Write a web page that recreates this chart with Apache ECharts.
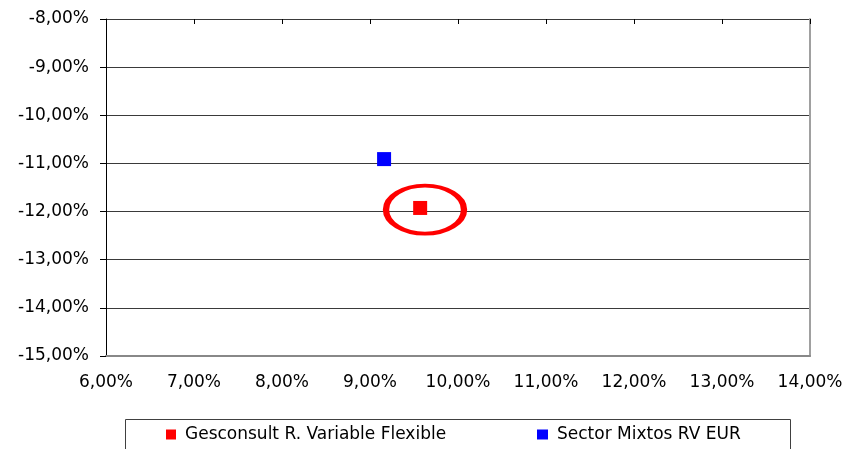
<!DOCTYPE html>
<html>
<head>
<meta charset="utf-8">
<script src="https://cdn.jsdelivr.net/npm/echarts@6/dist/echarts.min.js"></script>
<style>html,body{margin:0;padding:0;background:#fff}#c{width:854px;height:449px}</style>
</head>
<body>
<div id="c"></div>
<script>
var seriesNames = ['Gesconsult R. Variable Flexible', 'Sector Mixtos RV EUR'];
var fundPoint = [[9.57, -11.925]];
var sectorPoint = [[9.16, -10.91]];
var highlight = [[9.625, -11.96]];
var xTicks = {min: 6, max: 14, step: 1};
var yTicks = {min: -15, max: -8, step: 1};

function fmt(v){ return v.toFixed(2).replace('.', ',') + '%'; }
var FONT = 'DejaVu Sans';

var chart = echarts.init(document.getElementById('c'), null, {renderer: 'canvas'});
chart.setOption({
  backgroundColor: '#ffffff',
  animation: false,
  textStyle: {fontFamily: FONT},
  grid: {left: 106, right: 44, top: 19, bottom: 93, containLabel: false},
  xAxis: [{
    type: 'value', min: xTicks.min, max: xTicks.max, interval: xTicks.step,
    position: 'bottom',
    axisLine: {show: true, onZero: false, lineStyle: {color: '#888888', width: 2}},
    axisTick: {show: false},
    splitLine: {show: false},
    axisLabel: {formatter: fmt, color: '#000', fontFamily: FONT, fontSize: 17, margin: 18}
  }, {
    type: 'value', min: xTicks.min, max: xTicks.max, interval: xTicks.step,
    position: 'top',
    axisLine: {show: false},
    axisTick: {show: true, inside: true, length: 5, lineStyle: {color: '#000'}},
    splitLine: {show: false},
    axisLabel: {show: false}
  }],
  yAxis: [{
    type: 'value', min: yTicks.min, max: yTicks.max, interval: yTicks.step,
    position: 'left',
    axisLine: {show: true, onZero: false, lineStyle: {color: '#000', width: 1}},
    axisTick: {show: true, length: 6, lineStyle: {color: '#000'}},
    splitLine: {show: true, lineStyle: {color: '#3a3a3a', width: 1}},
    axisLabel: {formatter: fmt, color: '#000', fontFamily: FONT, fontSize: 17, margin: 17, padding: [6, 0, 0, 0]}
  }, {
    type: 'value', min: yTicks.min, max: yTicks.max, interval: yTicks.step,
    position: 'right',
    axisLine: {show: true, onZero: false, lineStyle: {color: '#a0a0a0', width: 2}},
    axisTick: {show: false},
    splitLine: {show: false},
    axisLabel: {show: false}
  }],
  legend: [{
    data: [seriesNames[0]], left: 166, top: 426, padding: 0,
    itemWidth: 10, itemHeight: 10, icon: 'rect',
    textStyle: {fontFamily: FONT, fontSize: 17, color: '#000', padding: [0, 0, 0, 4]}
  }, {
    data: [seriesNames[1]], left: 537, top: 426, padding: 0,
    itemWidth: 11, itemHeight: 10, icon: 'rect',
    textStyle: {fontFamily: FONT, fontSize: 17, color: '#000', padding: [0, 0, 0, 4]}
  }],
  graphic: [{
    type: 'rect', left: 123, top: 417, z: 0,
    shape: {width: 665, height: 60},
    style: {fill: 'none', stroke: '#404040', lineWidth: 1}
  }],
  series: [{
    name: 'highlight', type: 'scatter', data: highlight, silent: true,
    symbol: 'circle', symbolSize: [78, 48], z: 1,
    itemStyle: {color: 'rgba(0,0,0,0)', borderColor: '#ff0000', borderWidth: 5, opacity: 1}
  }, {
    name: seriesNames[0], type: 'scatter', data: fundPoint,
    symbol: 'rect', symbolSize: 14, z: 3,
    itemStyle: {color: '#ff0000', opacity: 1}
  }, {
    name: seriesNames[1], type: 'scatter', data: sectorPoint,
    symbol: 'rect', symbolSize: 14, z: 3,
    itemStyle: {color: '#0000ff', opacity: 1}
  }]
});
</script>
</body>
</html>
